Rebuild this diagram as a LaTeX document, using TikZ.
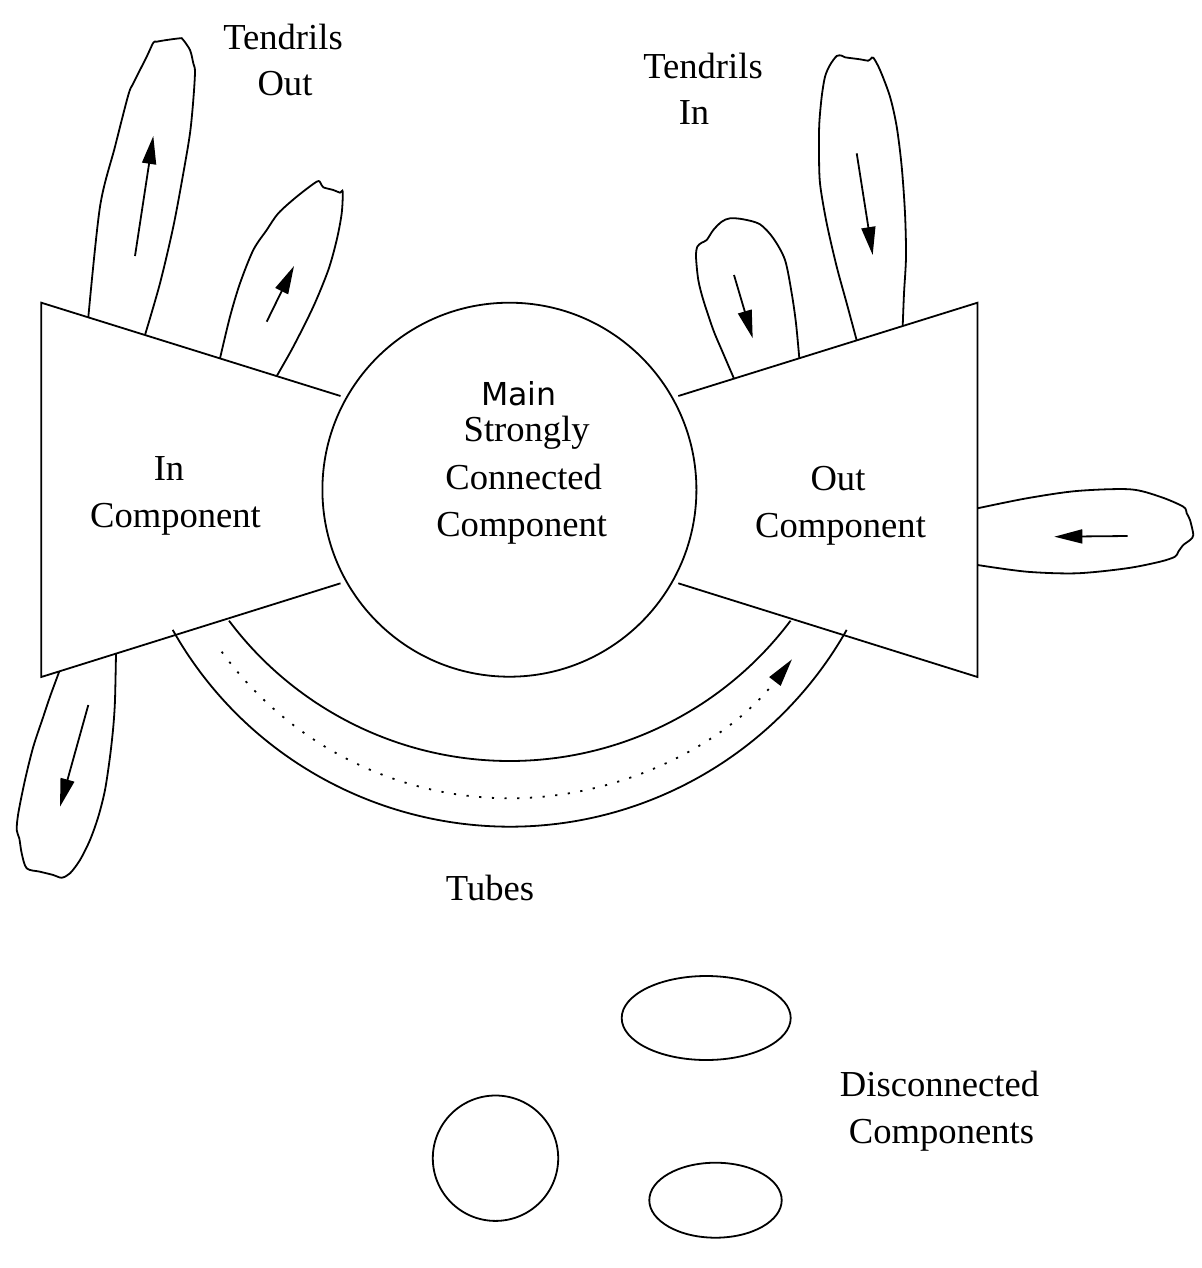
\documentclass[tikz,border=0pt]{standalone}
\usepackage{fontspec}
\setmainfont{Liberation Serif}
\newfontfamily\mainsans{DejaVu Sans}
\usetikzlibrary{arrows.meta}
\begin{document}
\begin{tikzpicture}[x=0.5pt,y=-0.5pt,line width=0.9pt,
  lbl/.style={font=\fontsize{18.3}{23.5}\selectfont,inner sep=0pt,anchor=base},
  sanslbl/.style={font=\mainsans\fontsize{15.8}{19}\selectfont,inner sep=0pt,anchor=base},
  outl/.style={draw,line width=0.9pt},
  flow/.style={-{Triangle[length=14pt,width=7pt]}},
  dotline/.style={line cap=butt,dash pattern=on 1.1pt off 5.25pt},
  tend/.style={smooth,tension=0.5}]
\useasboundingbox (0,0) rectangle (1202,1268);

% In component (left trapezoid)
\draw[outl] (340.5,396) -- (41.3,302.7) -- (41.3,677) -- (340.5,583.3);
% Out component (right trapezoid)
\draw[outl] (678.3,396) -- (977.5,302.7) -- (977.5,677) -- (678.3,583.3);
% Main SCC circle
\draw[outl] (509.4,489.7) circle[radius=187];

% Tubes
\draw[outl] (172.7,629.9) arc[start angle=150.55,end angle=29.45,radius=387];
\draw[outl] (229.0,620.7) arc[start angle=143.1,end angle=36.9,radius=351.1];
\draw[dotline,flow] (221.7,651.7) arc[start angle=143.95,end angle=37.58,radius=356.2];

% Tendrils out (from In component)
\draw[outl] plot[tend] coordinates {(88.3,317.4) (100,206.7) (115,146.7) (128.3,95) (133.3,83.3) (146.7,56.7) (153.3,42.7) (156.7,41.7) (166.7,40) (180,38.3) (182.7,39.3) (190,50) (193.3,63.3) (195,71.7) (193.3,100) (190,133.3) (183.3,173.3) (173.3,226.7) (160,283.3) (145,335)};
\draw[flow] (135,256) -- (153.3,136);
\draw[outl] plot[tend] coordinates {(220,358.4) (230,316.7) (240,283.3) (253.3,250) (266.7,230) (278.3,213.3) (296.7,196.7) (316.7,181.7) (320.7,183.3) (323.3,187.3) (333.3,190) (340,192.7) (342.7,191.7) (341.7,213.3) (336.7,240) (328.3,270) (313.3,306.7) (293.3,346.7) (276.7,376.1)};
\draw[flow] (266.7,321.7) -- (294,266);

% Tendrils in (to Out component)
\draw[outl] plot[tend] coordinates {(734,378.6) (721.7,350) (713.3,330) (703.3,300) (698.3,280) (696,256.7) (697.3,246.7) (701.7,242.7) (706.7,240) (713.3,230) (721.7,221.7) (730,218.3) (743.3,219.3) (760,224.3) (773.3,238.3) (785,260) (791.7,293.3) (796,323.3) (799.3,358.3)};
\draw[flow] (734,275) -- (752.7,338.3);
\draw[outl] plot[tend] coordinates {(856.7,340.4) (846.7,303.3) (836.7,266.7) (826.7,223.3) (820,183.3) (819,150) (819.3,123.3) (821.7,96.7) (825,76.7) (830,65) (836.7,56) (841.7,55.7) (845,57.3) (860,59.3) (868.3,60.7) (870.7,59) (873.3,57.7) (880,70) (890,96.7) (896.7,126.7) (901.7,166.7) (905,213.3) (906,256.7) (904,293.3) (902.7,326)};
\draw[flow] (856.7,153.3) -- (872.7,255);

% Lower-left tendril
\draw[outl] plot[tend] coordinates {(59.3,671.4) (50,696.7) (43.3,716.7) (33.3,746.7) (25,780) (18.3,813.3) (16.7,830) (19.3,838.3) (21.7,853.3) (26.7,868.3) (40,871.7) (53.3,875) (61.7,877.7) (70,873.3) (80,860) (90,840) (98.3,816.7) (105,790) (110,756.7) (113.3,726.7) (115,700) (116,653.6)};
\draw[flow] (88.3,705) -- (60,806.7);

% Right tendril
\draw[outl] plot[tend] coordinates {(977.5,508.3) (1026.7,498.3) (1076.7,491) (1130,489.3) (1160,496.7) (1183.3,506.7) (1186.7,513.3) (1190,520) (1193.3,535) (1190,540) (1183.3,545) (1178.3,551.7) (1175,556.7) (1160,561.7) (1126.7,568.3) (1076.7,573.3) (1026.7,571.7) (977.5,565)};
\draw[flow] (1127.7,536) -- (1054.3,536.7);

% Disconnected components
\draw[outl] (706.2,1018) ellipse[x radius=84.5,y radius=42];
\draw[outl] (495.5,1158.2) circle[radius=62.7];
\draw[outl] (715.5,1200.2) ellipse[x radius=66.2,y radius=37.5];

% Labels
\node[lbl] (toutA) at (283,50) {Tendrils};
\node[lbl] (toutB) at (285,96) {Out};
\node[lbl] (tinA) at (703,79) {Tendrils};
\node[lbl] (tinB) at (694,125) {In};
\node[lbl] (inA) at (169,480) {In};
\node[lbl] (inB) at (175.5,527) {Component};
\node[sanslbl] (sccA) at (519,405) {Main};
\node[lbl] (sccB) at (526.7,441.7) {Strongly};
\node[lbl] (sccC) at (523.7,489.3) {Connected};
\node[lbl] (sccD) at (521.7,536) {Component};
\node[lbl] (outA) at (838,490) {Out};
\node[lbl] (outB) at (840.5,537) {Component};
\node[lbl] (tubes) at (490,900) {Tubes};
\node[lbl] (discA) at (939.5,1096) {Disconnected};
\node[lbl] (discB) at (941.5,1143) {Components};
\end{tikzpicture}
\end{document}
